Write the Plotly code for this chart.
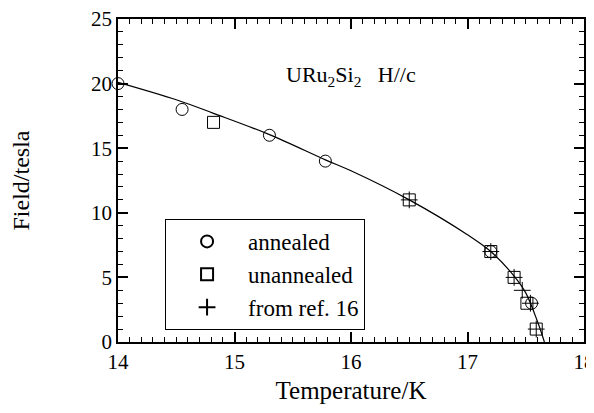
import plotly.graph_objects as go

# Data
annealed_T = [14.0, 14.55, 15.30, 15.78, 17.20, 17.55]
annealed_H = [20.0, 18.0, 16.0, 14.0, 7.0, 3.0]

unannealed_T = [14.82, 16.50, 17.20, 17.40, 17.51, 17.59]
unannealed_H = [17.0, 11.0, 7.0, 5.0, 3.0, 1.0]

ref16_T = [16.50, 17.20, 17.40, 17.47, 17.54, 17.59]
ref16_H = [11.0, 7.0, 5.0, 4.0, 3.0, 1.0]

curve_T = [14.0, 14.5, 14.82, 15.3, 15.78, 16.0, 16.5, 17.0, 17.2, 17.4, 17.5, 17.6, 17.66]
curve_H = [20.1, 18.75, 17.7, 16.05, 14.1, 13.25, 11.0, 8.3, 7.0, 5.1, 3.8, 1.6, 0.0]

FONT = "Liberation Serif"
CLEAR = "rgba(0,0,0,0)"

fig = go.Figure()
fig.add_trace(go.Scatter(x=curve_T, y=curve_H, mode="lines", line=dict(color="black", width=1.2, shape="spline"),
                         showlegend=False, hoverinfo="skip"))
fig.add_trace(go.Scatter(x=annealed_T, y=annealed_H, mode="markers", name="annealed", cliponaxis=False,
                         marker=dict(symbol="circle-open", size=12, color="black", line=dict(width=1))))
fig.add_trace(go.Scatter(x=unannealed_T, y=unannealed_H, mode="markers", name="unannealed", cliponaxis=False,
                         marker=dict(symbol="square-open", size=12, color="black", line=dict(width=1))))
fig.add_trace(go.Scatter(x=ref16_T, y=ref16_H, mode="markers", name="from ref. 16", cliponaxis=False,
                         marker=dict(symbol="cross-thin-open", size=12, color="black", line=dict(width=1))))

fig.add_annotation(x=16.0, y=20.6, xref="x", yref="y", showarrow=False,
                   text="URu<sub>2</sub>Si<sub>2</sub>   H//c", font=dict(family=FONT, size=22, color="black"))

axis_common = dict(showline=True, linecolor="black", linewidth=1.5, mirror="ticks",
                   showgrid=True, gridcolor=CLEAR, zeroline=True, zerolinecolor=CLEAR,
                   automargin=False, ticklabeloverflow="allow",
                   tickfont=dict(family=FONT, size=21, color="black"))

fig.update_xaxes(range=[14, 18], tickmode="linear", tick0=14, dtick=1,
                 ticks="inside", ticklen=10, tickwidth=1.5, tickcolor="black",
                 minor=dict(dtick=0.1, ticklen=5, ticks="inside", tickcolor="black", tickwidth=1),
                 title=dict(text="Temperature/K", font=dict(family=FONT, size=25, color="black"), standoff=9),
                 **axis_common)
fig.update_yaxes(range=[0, 25], tickmode="linear", tick0=0, dtick=5,
                 ticks="inside", ticklen=10, tickwidth=1.5, tickcolor="black",
                 minor=dict(dtick=1, ticklen=5, ticks="inside", tickcolor="black", tickwidth=1),
                 title=dict(text="Field/tesla", font=dict(family=FONT, size=24, color="black"), standoff=56),
                 **axis_common)

fig.update_layout(
    width=586, height=405,
    margin=dict(l=110, r=10, t=11, b=71),
    paper_bgcolor="white", plot_bgcolor="white",
    font=dict(family=FONT, color="black"),
    legend=dict(x=0.101, y=0.381, xanchor="left", yanchor="top", bordercolor="black", borderwidth=1,
                font=dict(family=FONT, size=23, color="black"), bgcolor="white",
                itemwidth=72, tracegroupgap=0, itemsizing="constant"),
)

fig.write_html("out.html")
